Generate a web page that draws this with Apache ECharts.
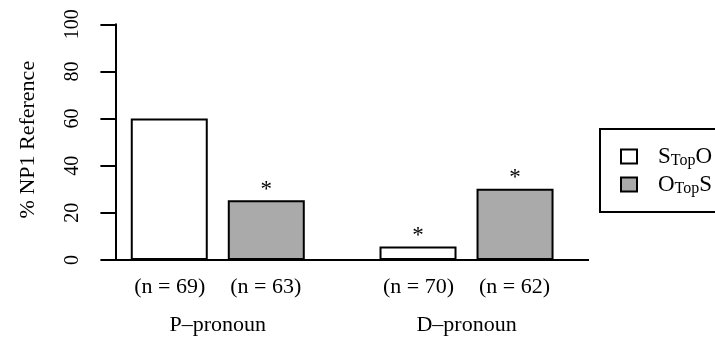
<!DOCTYPE html>
<html><head><meta charset="utf-8">
<script src="https://cdn.jsdelivr.net/npm/echarts@6/dist/echarts.min.js"></script>
<style>html,body{margin:0;padding:0;background:#fff}#c{width:715px;height:339px}</style>
</head><body><div id="c"></div>
<script>
const groups = ['P–pronoun', 'D–pronoun'];
const seriesNames = ['STopO', 'OTopS'];
const legendParts = [['S', 'Top', 'O'], ['O', 'Top', 'S']];
const sTopO = [60, 5.7];
const oTopS = [25.4, 30.2];
const nSTopO = ['(n = 69)', '(n = 70)'];
const nOTopS = ['(n = 63)', '(n = 62)'];
const sigSTopO = ['', '*'];
const sigOTopS = ['*', '*'];
const yMin = 0, yMax = 100, yStep = 20;

const FONT = '"Liberation Serif", "Times New Roman", serif';
const FS = 22;
const chart = echarts.init(document.getElementById('c'));

function barSeries(name, data, sig, fill) {
  return {
    name: name, type: 'bar', data: data, barWidth: 77, barGap: '26%',
    itemStyle: { color: fill, borderColor: '#000', borderWidth: 2 },
    label: { show: true, position: 'top', distance: -1, color: '#000', fontFamily: FONT, fontSize: 23,
      formatter: p => sig[p.dataIndex] },
    emphasis: { disabled: true }, animation: false
  };
}

const option = {
  animation: false,
  grid: { left: 93.4, width: 497.5, top: 24.3, bottom: 79, containLabel: false },
  xAxis: {
    type: 'category', data: groups,
    axisLine: { show: false }, axisTick: { show: false },
    axisLabel: {
      interval: 0, margin: 13, color: '#000', fontFamily: FONT, fontSize: FS,
      formatter: (v, i) => '{n|' + nSTopO[i] + '}{n|' + nOTopS[i] + '}\n{g|' + v + '}',
      rich: {
        n: { width: 96, align: 'center', fontFamily: FONT, fontSize: FS, lineHeight: 28, color: '#000' },
        g: { fontFamily: FONT, fontSize: FS, lineHeight: 48, color: '#000' }
      }
    }
  },
  yAxis: {
    type: 'value', min: yMin, max: yMax, interval: yStep, offset: -22,
    name: '% NP1 Reference', nameLocation: 'middle', nameRotate: 90, nameGap: 76,
    nameTextStyle: { color: '#000', fontFamily: FONT, fontSize: FS, padding: [0, 0, 0, 5] },
    axisLine: { show: true, lineStyle: { color: '#000', width: 2 } },
    axisTick: { show: true, length: 15, lineStyle: { color: '#000', width: 2 } },
    axisLabel: { rotate: 90, margin: 33, color: '#000', fontFamily: FONT, fontSize: 20 },
    splitLine: { show: false }
  },
  legend: {
    orient: 'vertical', left: 600, top: 129,
    data: seriesNames, icon: 'rect', itemWidth: 16, itemHeight: 14, itemGap: 4,
    padding: [16, 40, 15, 20], borderColor: '#000', borderWidth: 2, borderRadius: 0,
    selectedMode: false,
    formatter: name => {
      const p = legendParts[seriesNames.indexOf(name)];
      return '{g| }{m|' + p[0] + '}{s|' + p[1] + '}{m|' + p[2] + '}';
    },
    textStyle: {
      fontFamily: FONT, color: '#000',
      rich: {
        g: { width: 16, fontSize: 20, lineHeight: 25 },
        m: { fontFamily: FONT, fontSize: 23, lineHeight: 25, color: '#000' },
        s: { fontFamily: FONT, fontSize: 16, lineHeight: 10, verticalAlign: 'bottom', color: '#000' }
      }
    }
  },
  series: [
    barSeries(seriesNames[0], sTopO, sigSTopO, '#ffffff'),
    barSeries(seriesNames[1], oTopS, sigOTopS, '#aaaaaa')
  ]
};
chart.setOption(option);

const y0 = chart.convertToPixel({ yAxisIndex: 0 }, 0);
const gridLeft = 93.4;
chart.setOption({
  graphic: [{
    type: 'line', z: 10, silent: true,
    shape: { x1: gridLeft + 22, y1: y0, x2: 589, y2: y0 },
    style: { stroke: '#000', lineWidth: 2 }
  }]
});
</script></body></html>
